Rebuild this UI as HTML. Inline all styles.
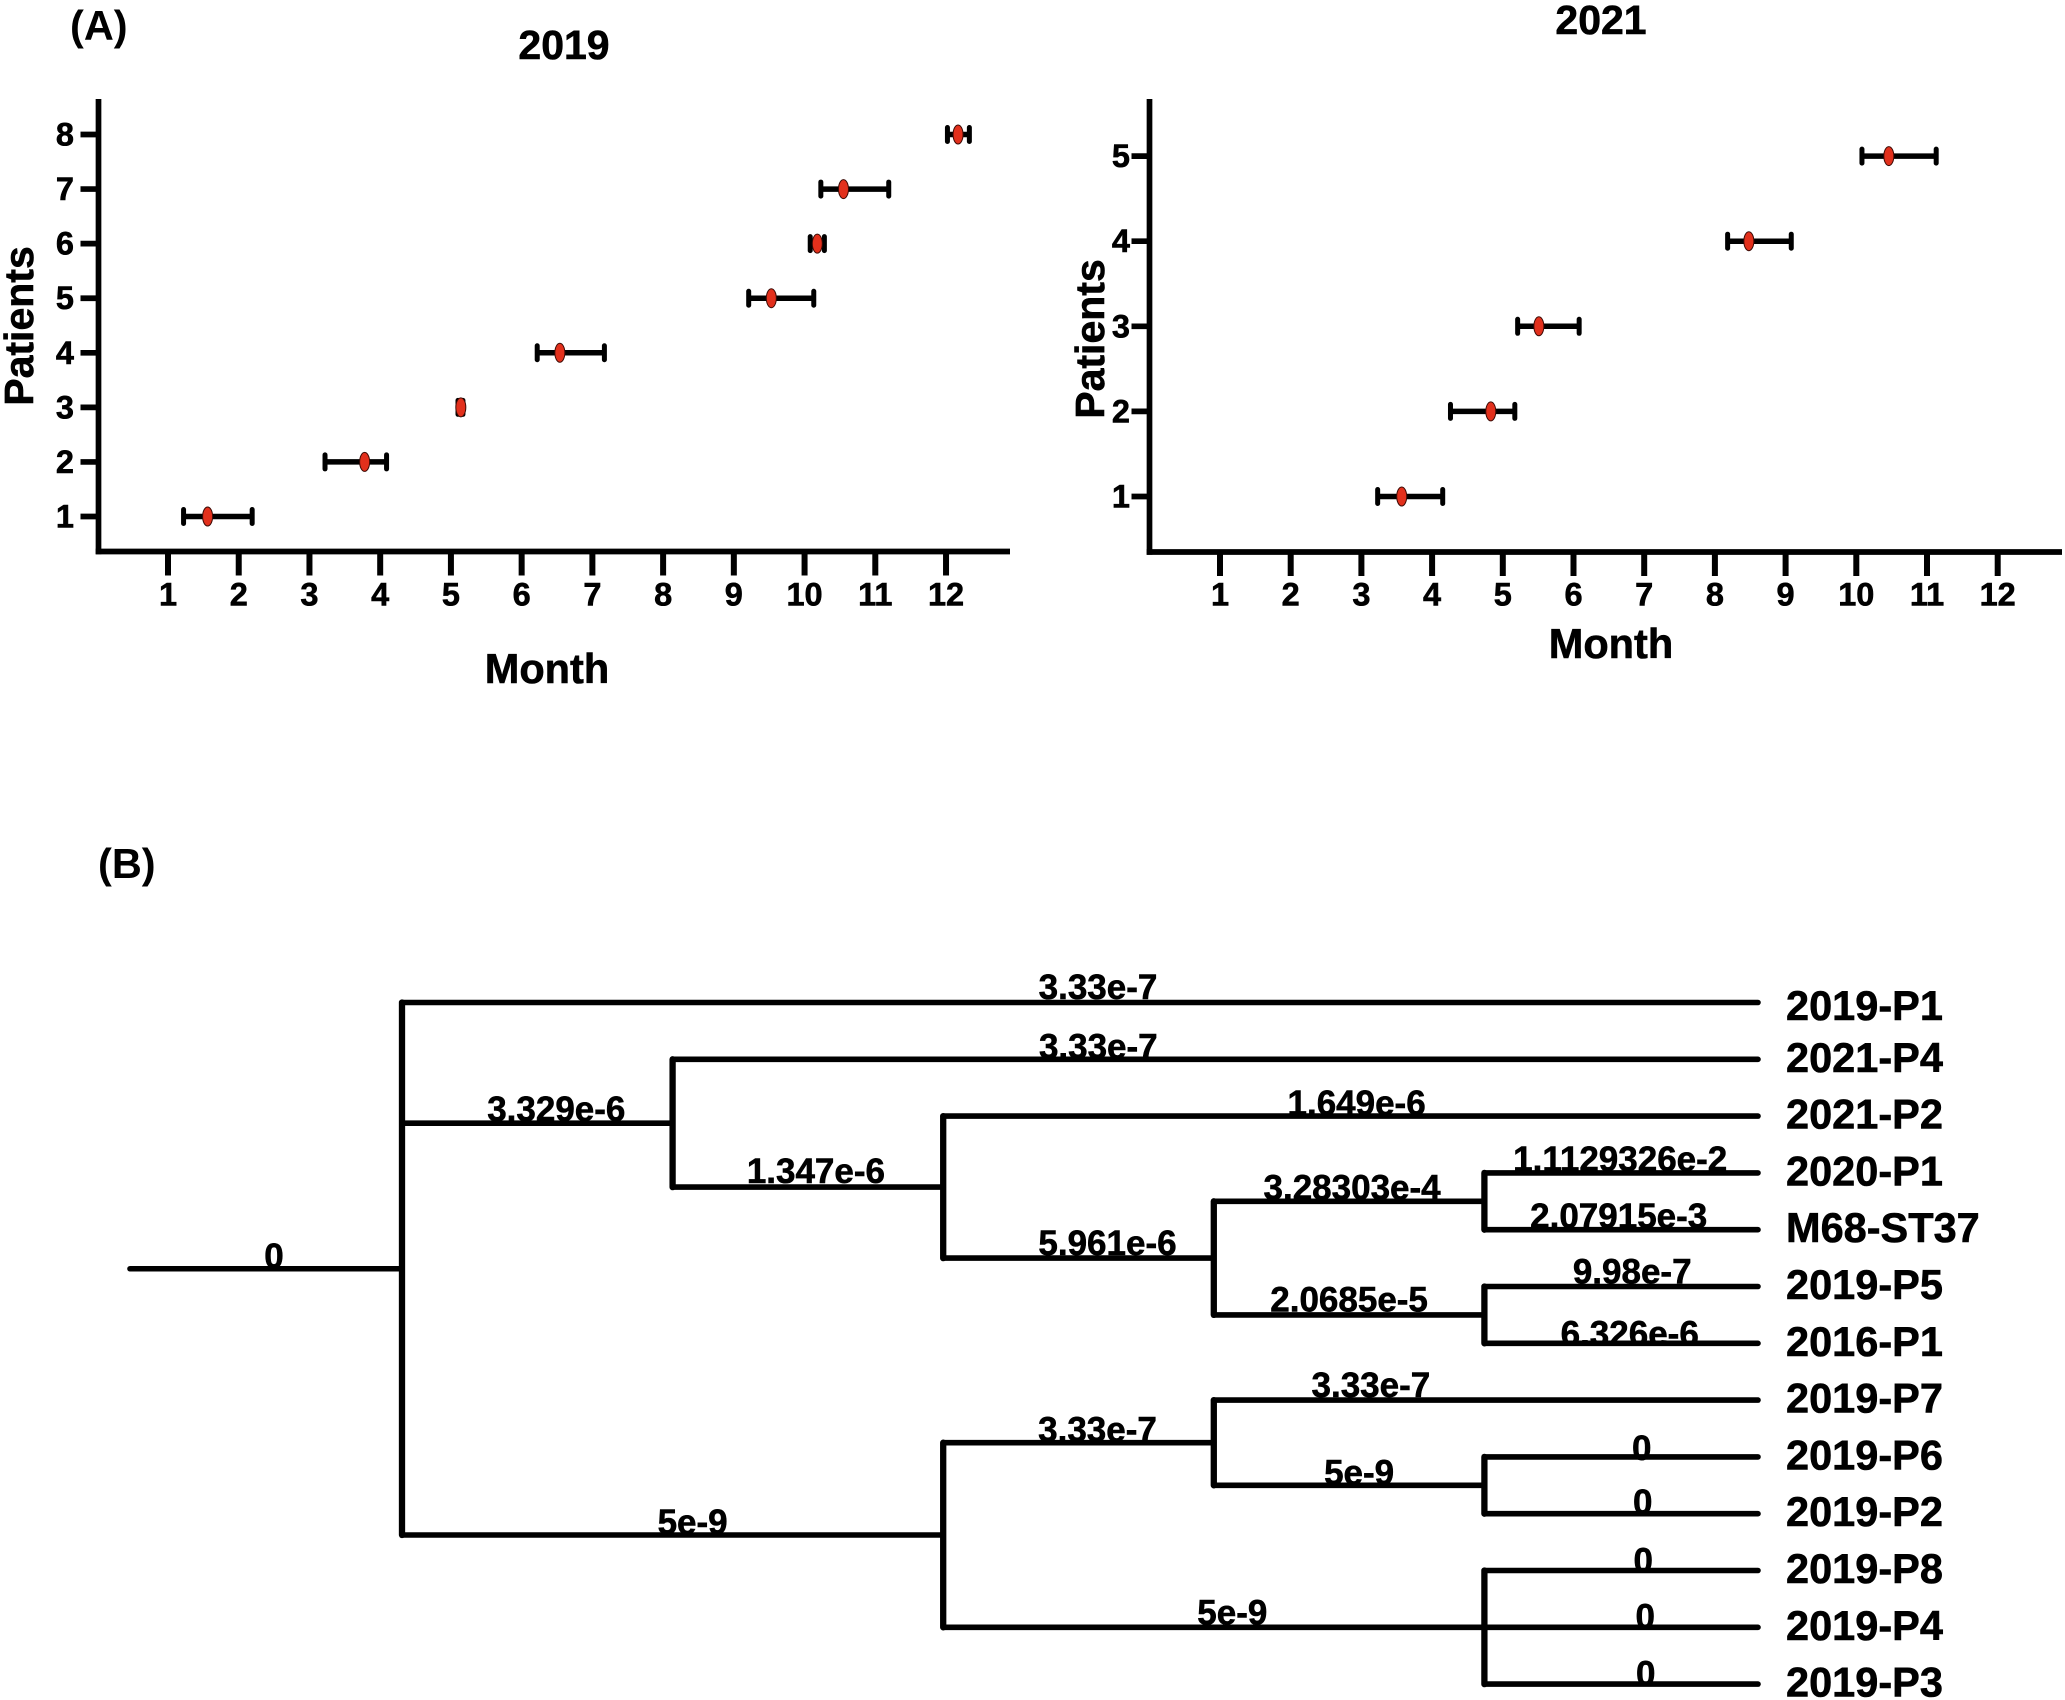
<!DOCTYPE html>
<html lang="en">
<head>
<meta charset="utf-8">
<title>Patient timelines and phylogenetic tree</title>
<style>
  html, body { margin: 0; padding: 0; background: #fff; }
  svg { display: block; }
  text { font-family: "Liberation Sans", sans-serif; font-weight: bold; fill: #000; stroke: #000; stroke-width: 0.6px; }
  text.panel { stroke-width: 0; }
</style>
</head>
<body>
<svg id="figure" xmlns="http://www.w3.org/2000/svg" width="2065" height="1700" viewBox="0 0 2065 1700">
  <rect x="0" y="0" width="2065" height="1700" fill="#fff"/>
  <text class="panel" x="70" y="40" font-size="41.5">(A)</text>
  <text class="panel" x="98" y="878" font-size="41.5">(B)</text>
  <text x="564" y="59" font-size="41" text-anchor="middle">2019</text>
  <text x="1601" y="34" font-size="41" text-anchor="middle">2021</text>
  <text x="547" y="683" font-size="41.5" text-anchor="middle">Month</text>
  <text x="1611" y="658" font-size="41.5" text-anchor="middle">Month</text>
  <text transform="translate(33 326) rotate(-90)" font-size="41" text-anchor="middle">Patients</text>
  <text transform="translate(1104 339) rotate(-90)" font-size="41" text-anchor="middle">Patients</text>
</svg>
<script>
// ---- Panel A data ----
const monthTicks = [1, 2, 3, 4, 5, 6, 7, 8, 9, 10, 11, 12];
const patientTicks2019 = [1, 2, 3, 4, 5, 6, 7, 8];
const centers2019 = [1.56, 3.78, 5.14, 6.54, 9.53, 10.18, 10.55, 12.17];
const lows2019 = [1.22, 3.22, 5.10, 6.22, 9.21, 10.08, 10.23, 12.02];
const highs2019 = [2.19, 4.09, 5.17, 7.17, 10.13, 10.28, 11.19, 12.33];
const patientTicks2021 = [1, 2, 3, 4, 5];
const centers2021 = [3.57, 4.83, 5.51, 8.48, 10.46];
const lows2021 = [3.23, 4.26, 5.21, 8.18, 10.08];
const highs2021 = [4.15, 5.17, 6.08, 9.08, 11.13];

// ---- Panel B data: [branch label, leaf name or child branches...] ----
const leafNames = ["2019-P1", "2021-P4", "2021-P2", "2020-P1", "M68-ST37", "2019-P5", "2016-P1", "2019-P7", "2019-P6", "2019-P2", "2019-P8", "2019-P4", "2019-P3"];
const treeBranches =
  ["0",
    ["3.33e-7", "2019-P1"],
    ["3.329e-6",
      ["3.33e-7", "2021-P4"],
      ["1.347e-6",
        ["1.649e-6", "2021-P2"],
        ["5.961e-6",
          ["3.28303e-4", ["1.1129326e-2", "2020-P1"], ["2.07915e-3", "M68-ST37"]],
          ["2.0685e-5", ["9.98e-7", "2019-P5"], ["6.326e-6", "2016-P1"]]]]],
    ["5e-9",
      ["3.33e-7",
        ["3.33e-7", "2019-P7"],
        ["5e-9", ["0", "2019-P6"], ["0", "2019-P2"]]],
      ["5e-9", ["0", "2019-P8"], ["0", "2019-P4"], ["0", "2019-P3"]]]];
// cladogram level of each internal node, in pre-order
const cladeLevels = [1, 2, 3, 4, 5, 5, 3, 4, 5, 5];

const svgNS = "http://www.w3.org/2000/svg";
const figure = document.getElementById("figure");

function line(name, x1, y1, x2, y2, width, cap) {
  const el = document.createElementNS(svgNS, "line");
  
  
  el.setAttribute("x1", x1);
  el.setAttribute("y1", y1);
  el.setAttribute("x2", x2);
  el.setAttribute("y2", y2);
  el.setAttribute("stroke", "#000");
  el.setAttribute("stroke-width", width);
  el.setAttribute("stroke-linecap", cap || "butt");
  figure.appendChild(el);
  return el;
}

function label(name, str, x, y, size, anchor) {
  const el = document.createElementNS(svgNS, "text");
  
  
  el.setAttribute("x", x);
  el.setAttribute("y", y);
  el.setAttribute("font-size", size);
  el.setAttribute("text-anchor", anchor);
  el.textContent = str;
  figure.appendChild(el);
  return el;
}

function drawPanel(key, cfg, yTicks, centers, lows, highs) {
  const xScale = m => cfg.x1 + (m - 1) * cfg.xStep;
  const yScale = p => cfg.y1 - (p - 1) * cfg.yStep;

  line("y-axis-" + key, cfg.axisX, cfg.axisTop, cfg.axisX, cfg.axisY + 2.8, 5.7);
  line("x-axis-" + key, cfg.axisX - 2.8, cfg.axisY, cfg.axisEnd, cfg.axisY, 5.7);

  monthTicks.forEach(m => {
    line("x-tick-" + key + "-" + m, xScale(m), cfg.axisY, xScale(m), cfg.axisY + 24, 6);
    label("x-tick-label-" + key + "-" + m, String(m), xScale(m), 605.5, 32.5, "middle");
  });

  yTicks.forEach(p => {
    line("y-tick-" + key + "-" + p, cfg.axisX - 18, yScale(p), cfg.axisX, yScale(p), 5.7);
    label("y-tick-label-" + key + "-" + p, String(p), cfg.yLabelX, yScale(p) + 11, 32.5, "end");
  });

  centers.forEach((c, i) => {
    const y = yScale(yTicks[i]);
    const lo = xScale(lows[i]);
    const hi = xScale(highs[i]);
    line("error-bar-" + key + "-p" + (i + 1), lo, y, hi, y, 5.5);
    line("error-cap-low-" + key + "-p" + (i + 1), lo, y - 7, lo, y + 7, 5, "round");
    line("error-cap-high-" + key + "-p" + (i + 1), hi, y - 7, hi, y + 7, 5, "round");
    const dot = document.createElementNS(svgNS, "ellipse");
    
    
    dot.setAttribute("cx", xScale(c));
    dot.setAttribute("cy", y);
    dot.setAttribute("rx", 5);
    dot.setAttribute("ry", 9.5);
    dot.setAttribute("fill", "#e2301c");
    dot.setAttribute("stroke", "#3a0a05");
    dot.setAttribute("stroke-width", 1);
    figure.appendChild(dot);
  });
}

drawPanel("2019", { x1: 168, xStep: 70.73, y1: 516.5, yStep: 54.57, axisX: 98.5, axisTop: 99, axisY: 551.5, axisEnd: 1010, yLabelX: 74 },
  patientTicks2019, centers2019, lows2019, highs2019);
drawPanel("2021", { x1: 1220, xStep: 70.7, y1: 496.5, yStep: 85.1, axisX: 1149.5, axisTop: 99, axisY: 552, axisEnd: 2062, yLabelX: 1130 },
  patientTicks2021, centers2021, lows2021, highs2021);

// ---- Panel B: cladogram layout ----
const treeX0 = 131.4, treeLevelStep = 270.6, tipX = 1758;
const treeY0 = 1002.5, treeRowStep = 56.8;
const levelX = d => treeX0 + d * treeLevelStep;
const rowY = r => treeY0 + r * treeRowStep;

// label placement tweaks in pre-order of the branches (dx, dy from branch midpoint)
const labelTweaks = [[8,-1],[18,-3.5],[19,-2],[-117,-1],[8,-4],[6,-1],[29,-3],[3,-2],[-1,-2],[-2.5,-1.5],[0,-3.5],[11,-3],[8.5,2],
  [20,-1],[19,-1],[-115,-3],[10,-1],[20.5,3],[21.5,0.5],[18.5,-3],[22,2],[24,1],[24.5,1.5]];
let tweakIndex = 0;
let cladeIndex = 0;

function layout(node) {
  const laid = { label: node[0], tweak: labelTweaks[tweakIndex++], kids: [] };
  if (typeof node[1] === "string") {
    laid.leaf = node[1];
    laid.y = rowY(leafNames.indexOf(node[1]));
  } else {
    laid.level = cladeLevels[cladeIndex++];
    laid.kids = node.slice(1).map(k => layout(k));
    laid.y = (laid.kids[0].y + laid.kids[laid.kids.length - 1].y) / 2;
  }
  return laid;
}

let branchCount = 0;
function drawTree(n, startX) {
  const endX = n.leaf ? tipX : levelX(n.level);
  branchCount += 1;
  label("branch-label-" + branchCount, n.label, (startX + endX) / 2 + n.tweak[0], n.y + n.tweak[1], 35, "middle");
  line("branch-" + branchCount, startX, n.y, endX, n.y, 5.6, "round");
  if (n.leaf) {
    const extra = n.leaf === "2019-P1" ? 5 : 0;
    label("leaf-label-" + n.leaf.toLowerCase(), n.leaf, 1786, n.y + 12.5 + extra, 41.5, "start");
  } else {
    line("clade-connector-" + branchCount, endX, n.kids[0].y, endX, n.kids[n.kids.length - 1].y, 6.3, "round");
    n.kids.forEach(k => drawTree(k, endX));
  }
}

drawTree(layout(treeBranches), 130);
</script>
</body>
</html>
